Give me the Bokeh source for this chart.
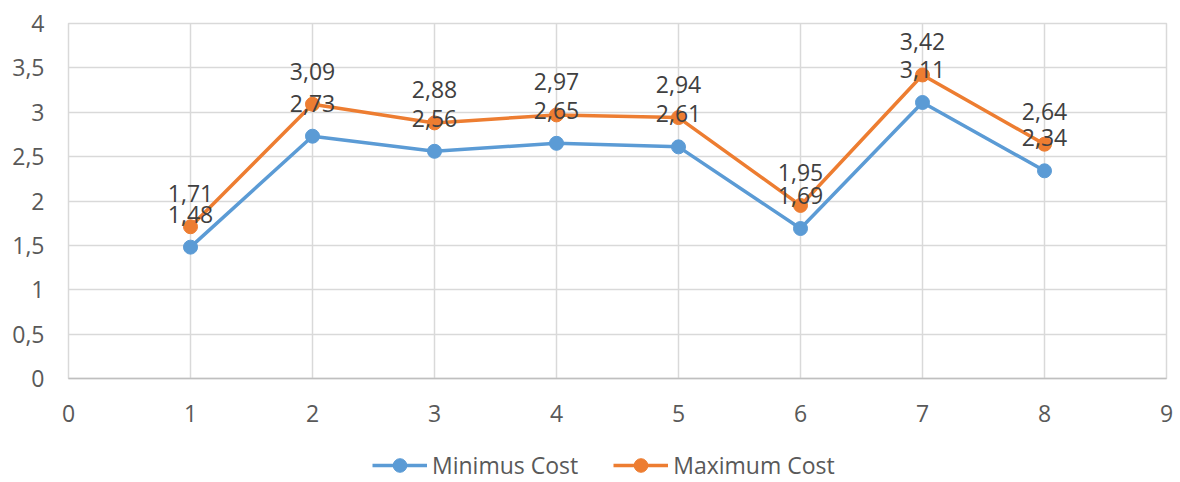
from bokeh.plotting import figure
from bokeh.layouts import column
from bokeh.models import (ColumnDataSource, LabelSet, Legend, LegendItem,
                          FixedTicker, CustomJSTickFormatter, Range1d)
from bokeh.core.properties import value
from bokeh.embed import file_html
from bokeh.resources import INLINE

x_vals = [1, 2, 3, 4, 5, 6, 7, 8]
min_cost = [1.48, 2.73, 2.56, 2.65, 2.61, 1.69, 3.11, 2.34]
max_cost = [1.71, 3.09, 2.88, 2.97, 2.94, 1.95, 3.42, 2.64]
x_ticks = [0, 1, 2, 3, 4, 5, 6, 7, 8, 9]
y_ticks = [0, 0.5, 1, 1.5, 2, 2.5, 3, 3.5, 4]
series_names = ["Minimus Cost", "Maximum Cost"]

BLUE = "#5B9BD5"
ORANGE = "#ED7D31"
FONT = "Open Sans"
FS = "23px"

p = figure(width=1180, height=440, output_backend="svg", toolbar_location=None,
           x_range=Range1d(0, 9), y_range=Range1d(0, 4),
           min_border_left=68, min_border_right=14, min_border_top=23,
           min_border_bottom=62)
p.outline_line_color = "#d9d9d9"
p.outline_line_width = 1.5

fmt = CustomJSTickFormatter(code="return tick.toString().replace('.', ',');")

for ax, ticks in ((p.xaxis, x_ticks), (p.yaxis, y_ticks)):
    ax.ticker = FixedTicker(ticks=ticks)
    ax.formatter = fmt
    ax.major_tick_line_color = None
    ax.minor_tick_line_color = None
    ax.major_label_text_font = FONT
    ax.major_label_text_font_size = FS
    ax.major_label_text_color = "#595959"

p.xaxis.axis_line_color = "#bfbfbf"
p.xaxis.axis_line_width = 1.5
p.yaxis.axis_line_color = None
p.xaxis.major_label_standoff = 20
p.yaxis.major_label_standoff = 18

p.xgrid.ticker = FixedTicker(ticks=x_ticks)
p.ygrid.ticker = FixedTicker(ticks=y_ticks)
p.xgrid.grid_line_color = "#d9d9d9"
p.ygrid.grid_line_color = "#d9d9d9"
p.xgrid.grid_line_width = 1.5
p.ygrid.grid_line_width = 1.5

src = ColumnDataSource(dict(
    x=x_vals, mn=min_cost, mx=max_cost,
    mn_lbl=[f"{v:.2f}".replace(".", ",") for v in min_cost],
    mx_lbl=[f"{v:.2f}".replace(".", ",") for v in max_cost],
))

p.line("x", "mn", source=src, line_color=BLUE, line_width=3.5)
p.scatter("x", "mn", source=src, size=14, fill_color=BLUE, line_color=BLUE)
p.line("x", "mx", source=src, line_color=ORANGE, line_width=3.5)
p.scatter("x", "mx", source=src, size=14, fill_color=ORANGE, line_color=ORANGE)

for col, lbl in (("mn", "mn_lbl"), ("mx", "mx_lbl")):
    ls = LabelSet(x="x", y=col, text=lbl, source=src, y_offset=33,
                  text_align="center", text_baseline="middle",
                  text_font=value(FONT), text_font_size=FS, text_color="#404040")
    p.add_layout(ls)

# legend strip below the chart (proxy renderers sit outside the visible range)
lf = figure(width=1180, height=42, output_backend="svg", toolbar_location=None,
            x_range=Range1d(0, 1), y_range=Range1d(0, 1),
            min_border=0, x_axis_type=None, y_axis_type=None)
lf.grid.visible = False
lf.outline_line_color = None
proxy = ColumnDataSource(dict(x=[-10, -11], y=[-10, -11]))
r1 = lf.line("x", "y", source=proxy, line_color=BLUE, line_width=3.5)
s1 = lf.scatter("x", "y", source=proxy, size=14, fill_color=BLUE, line_color=BLUE)
r2 = lf.line("x", "y", source=proxy, line_color=ORANGE, line_width=3.5)
s2 = lf.scatter("x", "y", source=proxy, size=14, fill_color=ORANGE, line_color=ORANGE)

legend = Legend(items=[LegendItem(label=series_names[0], renderers=[r1, s1]),
                       LegendItem(label=series_names[1], renderers=[r2, s2])],
                orientation="horizontal", location=(304, 0),
                label_text_font=FONT, label_text_font_size=FS,
                label_text_color="#595959", glyph_width=55, glyph_height=34,
                label_standoff=5, spacing=35, border_line_color=None,
                background_fill_alpha=0, padding=0, margin=0)
lf.add_layout(legend)

open("out.html", "w").write(file_html(column(p, lf, spacing=0), INLINE))
